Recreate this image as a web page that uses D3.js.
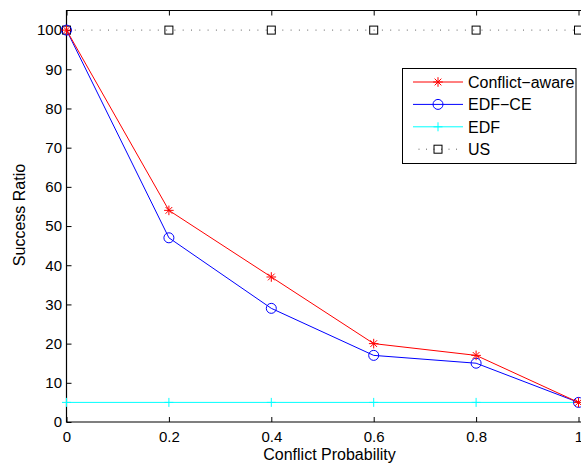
<!DOCTYPE html>
<html>
<head>
<meta charset="utf-8">
<script src="https://cdn.jsdelivr.net/npm/d3@7"></script>
<style>
  body { margin: 0; background: #fff; overflow: hidden; }
  text { font-family: "Liberation Sans", Arial, sans-serif; }
</style>
</head>
<body>
<div id="chart"></div>
<script>
const probs = [0, 0.2, 0.4, 0.6, 0.8, 1];
const conflictAware = [100, 54, 37, 20, 17, 5];
const edfCe = [100, 47, 29, 17, 15, 5];
const edf = [5, 5, 5, 5, 5, 5];
const us = [100, 100, 100, 100, 100, 100];
const xTicks = [0, 0.2, 0.4, 0.6, 0.8, 1];
const yTicks = [0, 10, 20, 30, 40, 50, 60, 70, 80, 90, 100];

const w = 581, h = 465;
const padL = 66.5, padR = 578.5, padT = 10.5, padB = 422;

const svg = d3.select("#chart").append("svg")
  .attr("width", w).attr("height", h);

const x = d3.scaleLinear().domain([0, 1]).range([padL, padR]);
const y = d3.scaleLinear().domain([0, 105]).range([padB, padT]);

// axes (MATLAB style, ticks inside)
const xAxis = d3.axisBottom(x).tickValues(xTicks).tickSizeInner(-5).tickSizeOuter(0)
  .tickPadding(9.5).tickFormat(d => d3.format("")(d));
const yAxis = d3.axisLeft(y).tickValues(yTicks).tickSizeInner(-5).tickSizeOuter(0).tickPadding(4.5);

const gx = svg.append("g").attr("transform", "translate(0," + padB + ")").call(xAxis);
const gy = svg.append("g").attr("transform", "translate(" + padL + ",0)").call(yAxis);
const gt = svg.append("g").attr("transform", "translate(0," + padT + ")")
  .call(d3.axisTop(x).tickValues(xTicks).tickSizeInner(-5).tickSizeOuter(0).tickFormat(""));

[gx, gy, gt].forEach(g => {
  g.select(".domain").remove();
  g.selectAll("line").attr("stroke", "#000").attr("stroke-width", 1);
  g.selectAll("text").attr("font-size", 15).attr("fill", "#000")
    .attr("font-family", "Liberation Sans, Arial, sans-serif");
});

// box: left, bottom, top (right edge falls outside the picture)
svg.append("path")
  .attr("d", `M${w + 2},${padT}H${padL}V${padB}H${w + 2}`)
  .attr("fill", "none").attr("stroke", "#000").attr("stroke-width", 1.2);

const line = d3.line().x((d, i) => x(probs[i])).y(d => y(d));

function drawMarker(g, type, cx, cy, color) {
  if (type === "star") {
    const r = 4.8;
    g.append("path").attr("d",
      `M${cx - r},${cy}L${cx + r},${cy}M${cx},${cy - r}L${cx},${cy + r}` +
      `M${cx - r * 0.7},${cy - r * 0.7}L${cx + r * 0.7},${cy + r * 0.7}` +
      `M${cx - r * 0.7},${cy + r * 0.7}L${cx + r * 0.7},${cy - r * 0.7}`)
      .attr("stroke", color).attr("stroke-width", 1);
  } else if (type === "circle") {
    g.append("circle").attr("cx", cx).attr("cy", cy).attr("r", 5)
      .attr("fill", "none").attr("stroke", color).attr("stroke-width", 1);
  } else if (type === "plus") {
    const r = 4.5;
    g.append("path").attr("d", `M${cx - r},${cy}L${cx + r},${cy}M${cx},${cy - r}L${cx},${cy + r}`)
      .attr("stroke", color).attr("stroke-width", 1);
  } else if (type === "square") {
    g.append("rect").attr("x", cx - 4).attr("y", cy - 4).attr("width", 8).attr("height", 8)
      .attr("fill", "none").attr("stroke", color).attr("stroke-width", 1);
  }
}

const series = [
  { name: "Conflict\u2212aware", values: conflictAware, color: "#ff0000", marker: "star", dash: null },
  { name: "EDF\u2212CE", values: edfCe, color: "#0000ff", marker: "circle", dash: null },
  { name: "EDF", values: edf, color: "#00ffff", marker: "plus", dash: null },
  { name: "US", values: us, color: "#000000", marker: "square", dash: "1,7.3" }
];

const plot = svg.append("g");
// draw in reverse so Conflict-aware sits on top
series.slice().reverse().forEach(s => {
  const g = plot.append("g");
  g.append("path").datum(s.values)
    .attr("d", line).attr("fill", "none")
    .attr("stroke", s.color).attr("stroke-width", s.dash ? 0.9 : 1)
    .attr("stroke-opacity", s.dash ? 0.7 : 1)
    .attr("stroke-dasharray", s.dash);
  s.values.forEach((v, i) => drawMarker(g, s.marker, x(probs[i]), y(v), s.color));
});

// legend
const lg = svg.append("g");
lg.append("rect").attr("x", 402.5).attr("y", 68.5).attr("width", 173.5).attr("height", 95)
  .attr("fill", "#fff").attr("stroke", "#000").attr("stroke-width", 1);
series.forEach((s, i) => {
  const ly = 82 + i * 22.4;
  lg.append("line").attr("x1", 413).attr("x2", 463).attr("y1", ly).attr("y2", ly)
    .attr("stroke", s.color).attr("stroke-width", s.dash ? 0.9 : 1)
    .attr("stroke-opacity", s.dash ? 0.7 : 1)
    .attr("stroke-dasharray", s.dash ? "1,6.5" : null)
    .attr("stroke-dashoffset", s.dash ? 2 : null);
  drawMarker(lg, s.marker, 438, ly, s.color);
  lg.append("text").attr("x", 468).attr("y", ly + 5.7)
    .attr("font-size", 16).attr("fill", "#000").text(s.name);
});

// axis titles
svg.append("text")
  .attr("x", 329.5).attr("y", 460)
  .attr("text-anchor", "middle").attr("font-size", 16)
  .text("Conflict Probability");

svg.append("text")
  .attr("transform", "rotate(-90)")
  .attr("x", -215).attr("y", 24.5)
  .attr("text-anchor", "middle").attr("font-size", 16)
  .text("Success Ratio");
</script>
</body>
</html>
